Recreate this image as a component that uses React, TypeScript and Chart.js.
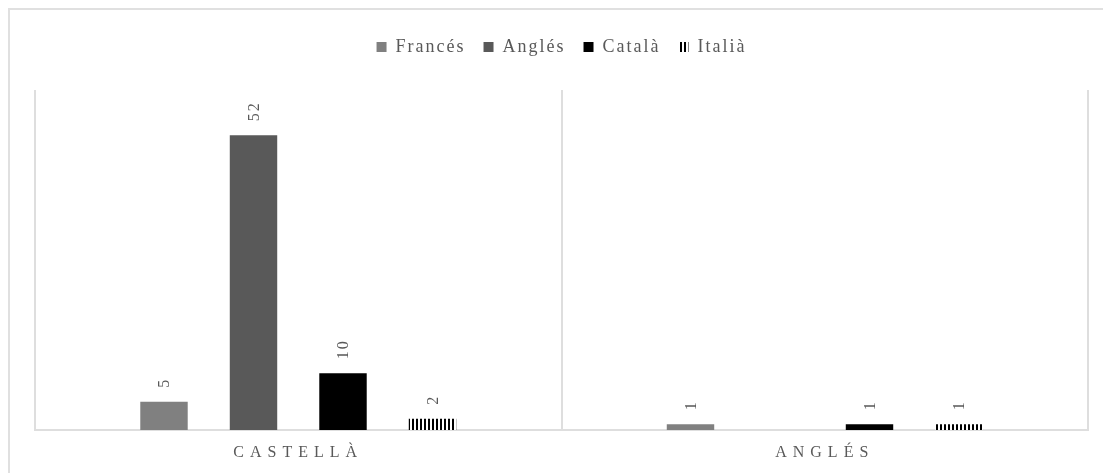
import React, { useEffect, useRef } from "react";
import { Chart, registerables } from "chart.js";

Chart.register(...registerables);

const categories = ["CASTELLÀ", "ANGLÉS"];
const seriesNames = ["Francés", "Anglés", "Català", "Italià"];
const francesValues = [5, 1];
const anglesValues = [52, null];
const catalaValues = [10, 1];
const italiaValues = [2, 1];
const yMax = 60;

const FONT = '"Liberation Serif", "Times New Roman", serif';
const TEXT_GRAY = "#595959";
const LINE_GRAY = "#dedede";

function makeStripePattern(): CanvasPattern | string {
  const c = document.createElement("canvas");
  c.width = 4;
  c.height = 4;
  const x = c.getContext("2d");
  if (!x) return "#000";
  x.fillStyle = "#ffffff";
  x.fillRect(0, 0, 4, 4);
  x.fillStyle = "#000000";
  x.fillRect(0, 0, 2, 4);
  return x.createPattern(c, "repeat") || "#000";
}

const outerBorder = {
  id: "outerBorder",
  beforeDraw(chart: any) {
    const ctx = chart.ctx;
    ctx.save();
    ctx.fillStyle = "#e0e0e0";
    ctx.fillRect(8, 8, chart.width - 8, 2);
    ctx.fillRect(8, 8, 2, chart.height - 8);
    ctx.restore();
  },
};

const legendSpacer = {
  id: "legendSpacer",
  afterInit(chart: any) {
    const l = chart.legend;
    if (!l || l.__spaced) return;
    const origFit = l.fit;
    const origDraw = l.draw;
    l.fit = function () {
      const ctx = this.ctx;
      ctx.save();
      ctx.letterSpacing = "2px";
      origFit.call(this);
      ctx.restore();
      this.height += 24;
    };
    l.draw = function () {
      const ctx = this.ctx;
      ctx.save();
      ctx.letterSpacing = "2px";
      origDraw.call(this);
      ctx.restore();
    };
    l.__spaced = true;
  },
};

const spacedTicks = {
  id: "spacedTicks",
  afterUpdate(chart: any) {
    const sc = chart.scales.x;
    if (!sc || sc.__patched) return;
    const orig = sc.drawLabels;
    sc.drawLabels = function (area: any) {
      const ctx = this.ctx;
      ctx.save();
      ctx.letterSpacing = "6px";
      orig.call(this, area);
      ctx.restore();
    };
    sc.__patched = true;
  },
};

const barLabels = {
  id: "barLabels",
  afterDatasetsDraw(chart: any) {
    const ctx = chart.ctx;
    chart.data.datasets.forEach((ds: any, i: number) => {
      const meta = chart.getDatasetMeta(i);
      meta.data.forEach((el: any, j: number) => {
        const v = ds.data[j];
        if (v === null || v === undefined) return;
        ctx.save();
        ctx.translate(el.x + 1, el.y - 14);
        ctx.rotate(-Math.PI / 2);
        ctx.font = `16px ${FONT}`;
        ctx.letterSpacing = "2px";
        ctx.fillStyle = TEXT_GRAY;
        ctx.textAlign = "left";
        ctx.textBaseline = "middle";
        ctx.fillText(String(v), 0, 0);
        ctx.restore();
      });
    });
  },
};

export default function App() {
  const canvasRef = useRef<HTMLCanvasElement | null>(null);

  useEffect(() => {
    const canvas = canvasRef.current;
    if (!canvas) return;
    const stripe = makeStripePattern();
    const colors: any[] = ["#808080", "#595959", "#000000", stripe];
    const values = [francesValues, anglesValues, catalaValues, italiaValues];
    const chart = new Chart(canvas, {
      type: "bar",
      data: {
        labels: categories,
        datasets: seriesNames.map((name, i) => ({
          label: name,
          data: values[i] as any,
          backgroundColor: colors[i],
          borderWidth: 0,
          categoryPercentage: 0.68,
          barPercentage: 0.53,
        })),
      },
      options: {
        animation: false,
        responsive: false,
        devicePixelRatio: 1,
        layout: { padding: { left: 35, right: 15, top: 20, bottom: 0 } },
        plugins: {
          legend: {
            position: "top",
            align: "center",
            labels: {
              boxWidth: 10,
              boxHeight: 10,
              padding: 18,
              color: TEXT_GRAY,
              font: { family: FONT, size: 18 },
            },
          },
          tooltip: { enabled: false },
        },
        scales: {
          x: {
            offset: true,
            grid: {
              display: true,
              offset: true,
              drawTicks: false,
              color: LINE_GRAY,
              lineWidth: 2,
            },
            border: { display: true, color: LINE_GRAY, width: 2 },
            ticks: {
              color: TEXT_GRAY,
              padding: 13,
              font: { family: FONT, size: 16 },
            },
            afterFit: (scale: any) => {
              scale.height = 43;
            },
          },
          y: {
            display: false,
            min: 0,
            max: yMax,
          },
        },
      },
      plugins: [outerBorder, legendSpacer, spacedTicks, barLabels],
    });
    return () => chart.destroy();
  }, []);

  return (
    <div style={{ position: "fixed", left: 0, top: 0, width: 1103, height: 473, background: "#fff" }}>
      <canvas ref={canvasRef} width={1103} height={473} />
    </div>
  );
}
